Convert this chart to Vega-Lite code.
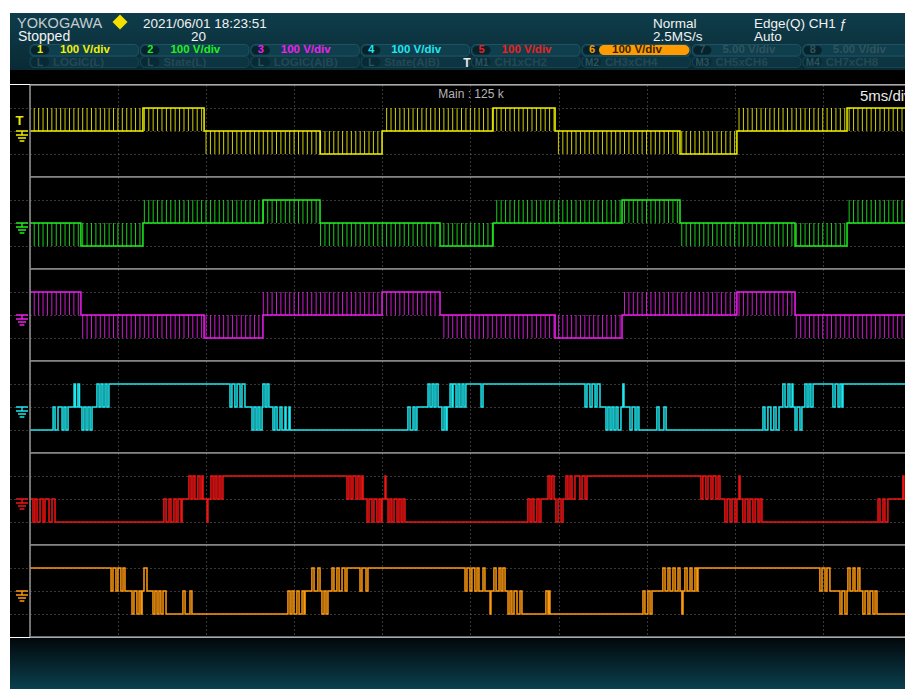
{
"$schema": "https://vega.github.io/schema/vega-lite/v6.json",
"background": "#ffffff",
"padding": {"left": 10, "top": 13, "right": 0, "bottom": 0},
"config": {
  "view": {"stroke": null, "fill": "#000000"},
  "axis": {"minExtent": 0, "maxExtent": 0, "labels": false, "ticks": false, "domain": false, "title": null},
  "concat": {"spacing": 0},
  "text": {"font": "Liberation Sans"}
},
"datasets": {
  "status": [{"brand": "YOKOGAWA", "date": "2021/06/01  18:23:51", "state": "Stopped", "count": "20", "mode": "Normal", "rate": "2.5MS/s", "trig": "Edge(Q) CH1 ƒ", "tmode": "Auto"}],
  "badges": [
    {"i": 0, "ch": 1, "sc": "100 V/div", "pre": "L", "sub": "LOGIC(L)"},
    {"i": 1, "ch": 2, "sc": "100 V/div", "pre": "L", "sub": "State(L)"},
    {"i": 2, "ch": 3, "sc": "100 V/div", "pre": "L", "sub": "LOGIC(A|B)"},
    {"i": 3, "ch": 4, "sc": "100 V/div", "pre": "L", "sub": "State(A|B)"},
    {"i": 4, "ch": 5, "sc": "100 V/div", "pre": "M1", "sub": "CH1xCH2"},
    {"i": 5, "ch": 6, "sc": "100 V/div", "pre": "M2", "sub": "CH3xCH4"},
    {"i": 6, "ch": 7, "sc": "5.00 V/div", "pre": "M3", "sub": "CH5xCH6"},
    {"i": 7, "ch": 8, "sc": "5.00 V/div", "pre": "M4", "sub": "CH7xCH8"}
  ],
  "scope": [
    {"c": 1, "g": 1, "info": "Main : 125 k", "tdiv": "5ms/div"},
    {"c": 2, "g": 1}, {"c": 3, "g": 1}, {"c": 4, "g": 1}, {"c": 5, "g": 1}, {"c": 6, "g": 1},
    {"c":1,"t":0,"v":0},{"c":1,"t":6.41,"v":100},{"c":1,"t":9.88,"v":0},{"c":1,"t":16.46,"v":-100},{"c":1,"t":19.98,"v":0},{"c":1,"t":26.28,"v":100},{"c":1,"t":29.8,"v":0},{"c":1,"t":36.89,"v":-100},{"c":1,"t":40.12,"v":0},{"c":1,"t":46.37,"v":100},{"c":1,"t":49.7,"v":100},
    {"c":2,"t":0,"v":0},{"c":2,"t":2.89,"v":-100},{"c":2,"t":6.41,"v":0},{"c":2,"t":13.22,"v":100},{"c":2,"t":16.46,"v":0},{"c":2,"t":23.27,"v":-100},{"c":2,"t":26.28,"v":0},{"c":2,"t":33.6,"v":100},{"c":2,"t":36.89,"v":0},{"c":2,"t":43.42,"v":-100},{"c":2,"t":46.37,"v":0},{"c":2,"t":49.7,"v":0},
    {"c":3,"t":0,"v":100},{"c":3,"t":2.89,"v":0},{"c":3,"t":9.88,"v":-100},{"c":3,"t":13.22,"v":0},{"c":3,"t":19.98,"v":100},{"c":3,"t":23.27,"v":0},{"c":3,"t":29.8,"v":-100},{"c":3,"t":33.6,"v":0},{"c":3,"t":40.12,"v":100},{"c":3,"t":43.42,"v":0},{"c":3,"t":49.7,"v":0},
    {"c":1,"b":0,"p":100,"ts":[0.24,0.49,0.74,0.99,1.24,1.49,1.74,1.99,2.24,2.49,2.74,2.99,3.24,3.49,3.74,3.99,4.24,4.49,4.74,4.99,5.24,5.49,5.74,5.99,6.24]},
    {"c":1,"b":100,"p":0,"ts":[6.49,6.74,6.99,7.24,7.49,7.74,7.99,8.24,8.49,8.74,8.99,9.24,9.49,9.74]},
    {"c":1,"b":0,"p":-100,"ts":[9.99,10.24,10.49,10.74,10.99,11.24,11.49,11.74,11.99,12.24,12.49,12.74,12.99,13.24,13.49,13.74,13.99,14.24,14.49,14.74,14.99,15.24,15.49,15.74,15.99,16.24]},
    {"c":1,"b":-100,"p":0,"ts":[16.49,16.74,16.99,17.24,17.49,17.74,17.99,18.24,18.49,18.74,18.99,19.24,19.49,19.74]},
    {"c":1,"b":0,"p":100,"ts":[20.24,20.49,20.74,20.99,21.24,21.49,21.74,21.99,22.24,22.49,22.74,22.99,23.24,23.49,23.74,23.99,24.24,24.49,24.74,24.99,25.24,25.49,25.74,25.99,26.24]},
    {"c":1,"b":100,"p":0,"ts":[26.49,26.74,26.99,27.24,27.49,27.74,27.99,28.24,28.49,28.74,28.99,29.24,29.49,29.74]},
    {"c":1,"b":0,"p":-100,"ts":[29.99,30.24,30.49,30.74,30.99,31.24,31.49,31.74,31.99,32.24,32.49,32.74,32.99,33.24,33.49,33.74,33.99,34.24,34.49,34.74,34.99,35.24,35.49,35.74,35.99,36.24,36.49,36.74]},
    {"c":1,"b":-100,"p":0,"ts":[36.99,37.24,37.49,37.74,37.99,38.24,38.49,38.74,38.99,39.24,39.49,39.74,39.99]},
    {"c":1,"b":0,"p":100,"ts":[40.24,40.49,40.74,40.99,41.24,41.49,41.74,41.99,42.24,42.49,42.74,42.99,43.24,43.49,43.74,43.99,44.24,44.49,44.74,44.99,45.24,45.49,45.74,45.99,46.24]},
    {"c":1,"b":100,"p":0,"ts":[46.49,46.74,46.99,47.24,47.49,47.74,47.99,48.24,48.49,48.74,48.99,49.24,49.49]},
    {"c":2,"b":0,"p":-100,"ts":[0.24,0.49,0.74,0.99,1.24,1.49,1.74,1.99,2.24,2.49,2.74]},
    {"c":2,"b":-100,"p":0,"ts":[2.99,3.24,3.49,3.74,3.99,4.24,4.49,4.74,4.99,5.24,5.49,5.74,5.99,6.24]},
    {"c":2,"b":0,"p":100,"ts":[6.49,6.74,6.99,7.24,7.49,7.74,7.99,8.24,8.49,8.74,8.99,9.24,9.49,9.74,9.99,10.24,10.49,10.74,10.99,11.24,11.49,11.74,11.99,12.24,12.49,12.74,12.99]},
    {"c":2,"b":100,"p":0,"ts":[13.24,13.49,13.74,13.99,14.24,14.49,14.74,14.99,15.24,15.49,15.74,15.99,16.24]},
    {"c":2,"b":0,"p":-100,"ts":[16.49,16.74,16.99,17.24,17.49,17.74,17.99,18.24,18.49,18.74,18.99,19.24,19.49,19.74,19.99,20.24,20.49,20.74,20.99,21.24,21.49,21.74,21.99,22.24,22.49,22.74,22.99]},
    {"c":2,"b":-100,"p":0,"ts":[23.49,23.74,23.99,24.24,24.49,24.74,24.99,25.24,25.49,25.74,25.99,26.24]},
    {"c":2,"b":0,"p":100,"ts":[26.49,26.74,26.99,27.24,27.49,27.74,27.99,28.24,28.49,28.74,28.99,29.24,29.49,29.74,29.99,30.24,30.49,30.74,30.99,31.24,31.49,31.74,31.99,32.24,32.49,32.74,32.99,33.24,33.49]},
    {"c":2,"b":100,"p":0,"ts":[33.74,33.99,34.24,34.49,34.74,34.99,35.24,35.49,35.74,35.99,36.24,36.49,36.74]},
    {"c":2,"b":0,"p":-100,"ts":[36.99,37.24,37.49,37.74,37.99,38.24,38.49,38.74,38.99,39.24,39.49,39.74,39.99,40.24,40.49,40.74,40.99,41.24,41.49,41.74,41.99,42.24,42.49,42.74,42.99,43.24]},
    {"c":2,"b":-100,"p":0,"ts":[43.49,43.74,43.99,44.24,44.49,44.74,44.99,45.24,45.49,45.74,45.99,46.24]},
    {"c":2,"b":0,"p":100,"ts":[46.49,46.74,46.99,47.24,47.49,47.74,47.99,48.24,48.49,48.74,48.99,49.24,49.49]},
    {"c":3,"b":100,"p":0,"ts":[0.24,0.49,0.74,0.99,1.24,1.49,1.74,1.99,2.24,2.49,2.74]},
    {"c":3,"b":0,"p":-100,"ts":[2.99,3.24,3.49,3.74,3.99,4.24,4.49,4.74,4.99,5.24,5.49,5.74,5.99,6.24,6.49,6.74,6.99,7.24,7.49,7.74,7.99,8.24,8.49,8.74,8.99,9.24,9.49,9.74]},
    {"c":3,"b":-100,"p":0,"ts":[9.99,10.24,10.49,10.74,10.99,11.24,11.49,11.74,11.99,12.24,12.49,12.74,12.99]},
    {"c":3,"b":0,"p":100,"ts":[13.24,13.49,13.74,13.99,14.24,14.49,14.74,14.99,15.24,15.49,15.74,15.99,16.24,16.49,16.74,16.99,17.24,17.49,17.74,17.99,18.24,18.49,18.74,18.99,19.24,19.49,19.74]},
    {"c":3,"b":100,"p":0,"ts":[20.24,20.49,20.74,20.99,21.24,21.49,21.74,21.99,22.24,22.49,22.74,22.99]},
    {"c":3,"b":0,"p":-100,"ts":[23.49,23.74,23.99,24.24,24.49,24.74,24.99,25.24,25.49,25.74,25.99,26.24,26.49,26.74,26.99,27.24,27.49,27.74,27.99,28.24,28.49,28.74,28.99,29.24,29.49,29.74]},
    {"c":3,"b":-100,"p":0,"ts":[29.99,30.24,30.49,30.74,30.99,31.24,31.49,31.74,31.99,32.24,32.49,32.74,32.99,33.24,33.49]},
    {"c":3,"b":0,"p":100,"ts":[33.74,33.99,34.24,34.49,34.74,34.99,35.24,35.49,35.74,35.99,36.24,36.49,36.74,36.99,37.24,37.49,37.74,37.99,38.24,38.49,38.74,38.99,39.24,39.49,39.74,39.99]},
    {"c":3,"b":100,"p":0,"ts":[40.24,40.49,40.74,40.99,41.24,41.49,41.74,41.99,42.24,42.49,42.74,42.99,43.24]},
    {"c":3,"b":0,"p":-100,"ts":[43.49,43.74,43.99,44.24,44.49,44.74,44.99,45.24,45.49,45.74,45.99,46.24,46.49,46.74,46.99,47.24,47.49,47.74,47.99,48.24,48.49,48.74,48.99,49.24,49.49]},
    {"c":4,"t":0,"v":-100},{"c":4,"t":1.31,"v":0},{"c":4,"t":1.42,"v":-100},{"c":4,"t":1.59,"v":0},{"c":4,"t":1.82,"v":-100},{"c":4,"t":1.93,"v":0},{"c":4,"t":2.04,"v":-100},{"c":4,"t":2.16,"v":0},{"c":4,"t":2.5,"v":100},{"c":4,"t":2.58,"v":0},{"c":4,"t":2.72,"v":100},{"c":4,"t":2.81,"v":0},{"c":4,"t":2.95,"v":-100},{"c":4,"t":3.06,"v":0},{"c":4,"t":3.18,"v":-100},{"c":4,"t":3.29,"v":0},{"c":4,"t":3.41,"v":-100},{"c":4,"t":3.52,"v":0},{"c":4,"t":3.8,"v":100},{"c":4,"t":3.92,"v":0},{"c":4,"t":4.03,"v":100},{"c":4,"t":4.14,"v":0},{"c":4,"t":4.26,"v":100},{"c":4,"t":4.37,"v":0},{"c":4,"t":4.48,"v":100},
    {"c":4,"t":11.35,"v":0},{"c":4,"t":11.46,"v":100},{"c":4,"t":11.63,"v":0},{"c":4,"t":11.75,"v":100},{"c":4,"t":11.92,"v":0},{"c":4,"t":12.03,"v":100},{"c":4,"t":12.2,"v":0},{"c":4,"t":12.6,"v":-100},{"c":4,"t":12.71,"v":0},{"c":4,"t":12.83,"v":-100},{"c":4,"t":12.94,"v":0},{"c":4,"t":13.05,"v":-100},{"c":4,"t":13.17,"v":0},{"c":4,"t":13.22,"v":100},{"c":4,"t":13.34,"v":0},{"c":4,"t":13.45,"v":100},{"c":4,"t":13.56,"v":0},{"c":4,"t":13.79,"v":-100},{"c":4,"t":13.9,"v":0},{"c":4,"t":14.02,"v":-100},{"c":4,"t":14.19,"v":0},{"c":4,"t":14.3,"v":-100},{"c":4,"t":14.47,"v":0},{"c":4,"t":14.53,"v":-100},{"c":4,"t":14.7,"v":0},{"c":4,"t":14.76,"v":-100},
    {"c":4,"t":21.45,"v":0},{"c":4,"t":21.57,"v":-100},{"c":4,"t":21.74,"v":0},{"c":4,"t":21.85,"v":-100},{"c":4,"t":21.96,"v":0},{"c":4,"t":22.59,"v":100},{"c":4,"t":22.7,"v":0},{"c":4,"t":22.82,"v":100},{"c":4,"t":22.93,"v":0},{"c":4,"t":23.04,"v":100},{"c":4,"t":23.16,"v":0},{"c":4,"t":23.38,"v":-100},{"c":4,"t":23.5,"v":0},{"c":4,"t":23.61,"v":-100},{"c":4,"t":23.67,"v":0},{"c":4,"t":23.84,"v":100},{"c":4,"t":23.95,"v":0},{"c":4,"t":24.01,"v":100},{"c":4,"t":24.18,"v":0},{"c":4,"t":24.29,"v":100},{"c":4,"t":24.4,"v":0},{"c":4,"t":24.52,"v":100},{"c":4,"t":24.63,"v":0},{"c":4,"t":24.74,"v":100},{"c":4,"t":25.6,"v":0},{"c":4,"t":25.71,"v":100},
    {"c":4,"t":31.5,"v":0},{"c":4,"t":31.61,"v":100},{"c":4,"t":31.78,"v":0},{"c":4,"t":31.9,"v":100},{"c":4,"t":32.07,"v":0},{"c":4,"t":32.18,"v":100},{"c":4,"t":32.35,"v":0},{"c":4,"t":32.69,"v":-100},{"c":4,"t":32.8,"v":0},{"c":4,"t":32.92,"v":-100},{"c":4,"t":33.03,"v":0},{"c":4,"t":33.14,"v":-100},{"c":4,"t":33.26,"v":0},{"c":4,"t":33.37,"v":-100},{"c":4,"t":33.54,"v":0},{"c":4,"t":33.65,"v":100},{"c":4,"t":33.71,"v":0},{"c":4,"t":34.05,"v":-100},{"c":4,"t":34.17,"v":0},{"c":4,"t":34.34,"v":-100},{"c":4,"t":34.45,"v":0},{"c":4,"t":34.56,"v":-100},{"c":4,"t":35.58,"v":0},{"c":4,"t":35.7,"v":-100},{"c":4,"t":35.98,"v":0},{"c":4,"t":36.1,"v":-100},
    {"c":4,"t":41.6,"v":0},{"c":4,"t":41.71,"v":-100},{"c":4,"t":41.88,"v":0},{"c":4,"t":42.05,"v":-100},{"c":4,"t":42.22,"v":0},{"c":4,"t":42.34,"v":-100},{"c":4,"t":42.51,"v":0},{"c":4,"t":42.73,"v":100},{"c":4,"t":42.85,"v":0},{"c":4,"t":43.02,"v":100},{"c":4,"t":43.13,"v":0},{"c":4,"t":43.25,"v":100},{"c":4,"t":43.3,"v":0},{"c":4,"t":43.42,"v":-100},{"c":4,"t":43.53,"v":0},{"c":4,"t":43.7,"v":-100},{"c":4,"t":43.81,"v":0},{"c":4,"t":43.98,"v":100},{"c":4,"t":44.1,"v":0},{"c":4,"t":44.21,"v":100},{"c":4,"t":44.32,"v":0},{"c":4,"t":44.44,"v":100},{"c":4,"t":45.57,"v":0},{"c":4,"t":45.69,"v":100},{"c":4,"t":45.86,"v":0},{"c":4,"t":45.97,"v":100},{"c":4,"t":46.08,"v":0},{"c":4,"t":46.14,"v":100},{"c":4,"t":49.7,"v":100},
    {"c":5,"t":0,"v":0},{"c":5,"t":0.17,"v":-100},{"c":5,"t":0.28,"v":0},{"c":5,"t":0.4,"v":-100},{"c":5,"t":0.57,"v":0},{"c":5,"t":0.74,"v":-100},{"c":5,"t":0.85,"v":0},{"c":5,"t":1.08,"v":-100},{"c":5,"t":1.25,"v":0},{"c":5,"t":1.42,"v":-100},
    {"c":5,"t":7.6,"v":0},{"c":5,"t":7.72,"v":-100},{"c":5,"t":7.89,"v":0},{"c":5,"t":8.0,"v":-100},{"c":5,"t":8.17,"v":0},{"c":5,"t":8.29,"v":-100},{"c":5,"t":8.4,"v":0},{"c":5,"t":8.57,"v":-100},{"c":5,"t":8.63,"v":0},{"c":5,"t":9.02,"v":100},{"c":5,"t":9.14,"v":0},{"c":5,"t":9.25,"v":100},{"c":5,"t":9.36,"v":0},{"c":5,"t":9.53,"v":100},{"c":5,"t":9.65,"v":0},{"c":5,"t":9.76,"v":100},{"c":5,"t":9.82,"v":0},{"c":5,"t":10.05,"v":-100},{"c":5,"t":10.1,"v":0},{"c":5,"t":10.27,"v":100},{"c":5,"t":10.39,"v":0},{"c":5,"t":10.5,"v":100},{"c":5,"t":10.61,"v":0},{"c":5,"t":10.73,"v":100},{"c":5,"t":10.84,"v":0},{"c":5,"t":10.95,"v":100},
    {"c":5,"t":17.99,"v":0},{"c":5,"t":18.1,"v":100},{"c":5,"t":18.22,"v":0},{"c":5,"t":18.33,"v":100},{"c":5,"t":18.5,"v":0},{"c":5,"t":18.61,"v":100},{"c":5,"t":18.73,"v":0},{"c":5,"t":18.84,"v":100},{"c":5,"t":18.9,"v":0},{"c":5,"t":19.13,"v":-100},{"c":5,"t":19.24,"v":0},{"c":5,"t":19.41,"v":-100},{"c":5,"t":19.52,"v":0},{"c":5,"t":19.69,"v":-100},{"c":5,"t":19.81,"v":0},{"c":5,"t":19.92,"v":-100},{"c":5,"t":19.98,"v":0},{"c":5,"t":20.15,"v":100},{"c":5,"t":20.2,"v":0},{"c":5,"t":20.32,"v":-100},{"c":5,"t":20.43,"v":0},{"c":5,"t":20.54,"v":-100},{"c":5,"t":20.66,"v":0},{"c":5,"t":20.83,"v":-100},{"c":5,"t":20.94,"v":0},{"c":5,"t":21.06,"v":-100},{"c":5,"t":21.17,"v":0},{"c":5,"t":21.28,"v":-100},
    {"c":5,"t":28.26,"v":0},{"c":5,"t":28.38,"v":-100},{"c":5,"t":28.49,"v":0},{"c":5,"t":28.6,"v":-100},{"c":5,"t":28.77,"v":0},{"c":5,"t":28.89,"v":-100},{"c":5,"t":29.0,"v":0},{"c":5,"t":29.4,"v":100},{"c":5,"t":29.51,"v":0},{"c":5,"t":29.62,"v":100},{"c":5,"t":29.74,"v":0},{"c":5,"t":29.85,"v":-100},{"c":5,"t":29.97,"v":0},{"c":5,"t":30.14,"v":-100},{"c":5,"t":30.25,"v":0},{"c":5,"t":30.42,"v":100},{"c":5,"t":30.53,"v":0},{"c":5,"t":30.65,"v":100},{"c":5,"t":30.76,"v":0},{"c":5,"t":30.93,"v":100},{"c":5,"t":31.21,"v":0},{"c":5,"t":31.33,"v":100},{"c":5,"t":31.5,"v":0},{"c":5,"t":31.61,"v":100},
    {"c":5,"t":38.08,"v":0},{"c":5,"t":38.19,"v":100},{"c":5,"t":38.36,"v":0},{"c":5,"t":38.48,"v":100},{"c":5,"t":38.65,"v":0},{"c":5,"t":38.76,"v":100},{"c":5,"t":38.93,"v":0},{"c":5,"t":39.05,"v":100},{"c":5,"t":39.16,"v":0},{"c":5,"t":39.44,"v":-100},{"c":5,"t":39.56,"v":0},{"c":5,"t":39.73,"v":-100},{"c":5,"t":39.84,"v":0},{"c":5,"t":40.01,"v":-100},{"c":5,"t":40.12,"v":0},{"c":5,"t":40.24,"v":100},{"c":5,"t":40.3,"v":0},{"c":5,"t":40.46,"v":-100},{"c":5,"t":40.58,"v":0},{"c":5,"t":40.75,"v":-100},{"c":5,"t":40.86,"v":0},{"c":5,"t":41.03,"v":-100},{"c":5,"t":41.15,"v":0},{"c":5,"t":41.32,"v":-100},{"c":5,"t":41.43,"v":0},{"c":5,"t":41.54,"v":-100},
    {"c":5,"t":48.13,"v":0},{"c":5,"t":48.24,"v":-100},{"c":5,"t":48.41,"v":0},{"c":5,"t":48.52,"v":-100},{"c":5,"t":48.69,"v":0},{"c":5,"t":49.54,"v":100},{"c":5,"t":49.6,"v":0},{"c":5,"t":49.7,"v":0},
    {"c":6,"t":0,"v":100},{"c":6,"t":4.6,"v":0},{"c":6,"t":4.71,"v":100},{"c":6,"t":4.88,"v":0},{"c":6,"t":4.99,"v":100},{"c":6,"t":5.16,"v":0},{"c":6,"t":5.28,"v":100},{"c":6,"t":5.39,"v":0},{"c":6,"t":5.79,"v":-100},{"c":6,"t":5.9,"v":0},{"c":6,"t":6.07,"v":-100},{"c":6,"t":6.19,"v":0},{"c":6,"t":6.3,"v":-100},{"c":6,"t":6.36,"v":0},{"c":6,"t":6.47,"v":100},{"c":6,"t":6.64,"v":0},{"c":6,"t":6.98,"v":-100},{"c":6,"t":7.09,"v":0},{"c":6,"t":7.21,"v":-100},{"c":6,"t":7.32,"v":0},{"c":6,"t":7.43,"v":-100},{"c":6,"t":7.55,"v":0},{"c":6,"t":7.72,"v":-100},{"c":6,"t":8.68,"v":0},{"c":6,"t":8.8,"v":-100},{"c":6,"t":9.08,"v":0},{"c":6,"t":9.19,"v":-100},
    {"c":6,"t":14.64,"v":0},{"c":6,"t":14.76,"v":-100},{"c":6,"t":14.87,"v":0},{"c":6,"t":14.98,"v":-100},{"c":6,"t":15.15,"v":0},{"c":6,"t":15.27,"v":-100},{"c":6,"t":15.44,"v":0},{"c":6,"t":15.55,"v":-100},{"c":6,"t":15.61,"v":0},{"c":6,"t":16.0,"v":100},{"c":6,"t":16.12,"v":0},{"c":6,"t":16.34,"v":100},{"c":6,"t":16.46,"v":0},{"c":6,"t":16.57,"v":-100},{"c":6,"t":16.69,"v":0},{"c":6,"t":16.8,"v":-100},{"c":6,"t":16.91,"v":0},{"c":6,"t":17.14,"v":100},{"c":6,"t":17.25,"v":0},{"c":6,"t":17.42,"v":100},{"c":6,"t":17.54,"v":0},{"c":6,"t":17.71,"v":100},{"c":6,"t":17.88,"v":0},{"c":6,"t":17.99,"v":100},{"c":6,"t":18.73,"v":0},{"c":6,"t":18.84,"v":100},{"c":6,"t":19.07,"v":0},{"c":6,"t":19.18,"v":100},
    {"c":6,"t":24.69,"v":0},{"c":6,"t":24.8,"v":100},{"c":6,"t":24.97,"v":0},{"c":6,"t":25.08,"v":100},{"c":6,"t":25.25,"v":0},{"c":6,"t":25.37,"v":100},{"c":6,"t":25.48,"v":0},{"c":6,"t":25.71,"v":100},{"c":6,"t":25.82,"v":0},{"c":6,"t":26.11,"v":-100},{"c":6,"t":26.16,"v":0},{"c":6,"t":26.33,"v":100},{"c":6,"t":26.45,"v":0},{"c":6,"t":26.62,"v":100},{"c":6,"t":26.73,"v":0},{"c":6,"t":26.84,"v":100},{"c":6,"t":26.96,"v":0},{"c":6,"t":27.13,"v":-100},{"c":6,"t":27.24,"v":0},{"c":6,"t":27.35,"v":-100},{"c":6,"t":27.47,"v":0},{"c":6,"t":27.64,"v":-100},{"c":6,"t":27.81,"v":0},{"c":6,"t":27.92,"v":-100},{"c":6,"t":29.28,"v":0},{"c":6,"t":29.4,"v":-100},{"c":6,"t":29.45,"v":0},{"c":6,"t":29.51,"v":-100},
    {"c":6,"t":34.79,"v":0},{"c":6,"t":34.9,"v":-100},{"c":6,"t":35.07,"v":0},{"c":6,"t":35.19,"v":-100},{"c":6,"t":35.3,"v":0},{"c":6,"t":35.92,"v":100},{"c":6,"t":36.04,"v":0},{"c":6,"t":36.21,"v":100},{"c":6,"t":36.32,"v":0},{"c":6,"t":36.49,"v":100},{"c":6,"t":36.61,"v":0},{"c":6,"t":36.78,"v":100},{"c":6,"t":36.89,"v":0},{"c":6,"t":37.0,"v":-100},{"c":6,"t":37.06,"v":0},{"c":6,"t":37.17,"v":100},{"c":6,"t":37.29,"v":0},{"c":6,"t":37.46,"v":100},{"c":6,"t":37.57,"v":0},{"c":6,"t":37.74,"v":100},{"c":6,"t":37.85,"v":0},{"c":6,"t":37.91,"v":100},
    {"c":6,"t":44.83,"v":0},{"c":6,"t":44.95,"v":100},{"c":6,"t":45.12,"v":0},{"c":6,"t":45.23,"v":100},{"c":6,"t":45.4,"v":0},{"c":6,"t":45.97,"v":-100},{"c":6,"t":46.08,"v":0},{"c":6,"t":46.25,"v":-100},{"c":6,"t":46.37,"v":0},{"c":6,"t":46.42,"v":100},{"c":6,"t":46.54,"v":0},{"c":6,"t":46.71,"v":100},{"c":6,"t":46.82,"v":0},{"c":6,"t":46.99,"v":100},{"c":6,"t":47.1,"v":0},{"c":6,"t":47.27,"v":-100},{"c":6,"t":47.39,"v":0},{"c":6,"t":47.56,"v":-100},{"c":6,"t":47.67,"v":0},{"c":6,"t":47.84,"v":-100},{"c":6,"t":47.96,"v":0},{"c":6,"t":48.07,"v":-100},{"c":6,"t":49.7,"v":-100}
  ]
},
"spacing": 0,
"resolve": {"scale": {"x": "independent", "y": "independent", "color": "independent"}},
"vconcat": [
  {
    "width": 895, "height": 71,
    "layer": [
      {"data": {"name": "status"},
       "mark": {"type": "rect", "clip": true, "fill": {"gradient": "linear", "x1": 0, "y1": 0, "x2": 0, "y2": 1, "stops": [{"offset": 0, "color": "#0f3d4b"}, {"offset": 1, "color": "#092a35"}]}},
       "encoding": {
         "x": {"datum": -0.1812, "type": "quantitative", "scale": {"domain": [-0.1812, 7.9257], "nice": false, "zero": false}, "axis": null},
         "x2": {"datum": 7.9257},
         "y": {"datum": 14, "type": "quantitative", "scale": {"domain": [0, 71], "nice": false, "zero": false}, "axis": null},
         "y2": {"datum": 71}}},
      {"data": {"name": "badges"},
       "mark": {"type": "rect", "clip": true, "fill": "#0f3e4c", "stroke": "#24596a", "strokeWidth": 0.8, "cornerRadius": 4, "x2Offset": -2},
       "encoding": {"x": {"field": "i", "type": "quantitative"}, "x2": {"field": "ch"}, "y": {"datum": 28}, "y2": {"datum": 39.5}}},
      {"data": {"name": "badges"},
       "mark": {"type": "rect", "clip": true, "fill": "#0c3541", "stroke": "#1c4a58", "strokeWidth": 0.8, "cornerRadius": 4, "x2Offset": -2},
       "encoding": {"x": {"field": "i", "type": "quantitative"}, "x2": {"field": "ch"}, "y": {"datum": 16.5}, "y2": {"datum": 27.5}}},
      {"data": {"name": "badges"},
       "mark": {"type": "rect", "clip": true, "fill": "#06232c", "cornerRadius": 5, "xOffset": 1, "x2Offset": 19},
       "encoding": {"x": {"field": "i", "type": "quantitative"}, "x2": {"field": "i"}, "y": {"datum": 29.5}, "y2": {"datum": 38}}},
      {"data": {"name": "badges"},
       "mark": {"type": "rect", "clip": true, "fill": "#082a34", "cornerRadius": 5, "xOffset": 1, "x2Offset": 19},
       "encoding": {"x": {"field": "i", "type": "quantitative"}, "x2": {"field": "i"}, "y": {"datum": 17.5}, "y2": {"datum": 26.5}}},
      {"data": {"name": "badges"},
       "transform": [{"filter": "datum.ch === 6"}],
       "mark": {"type": "rect", "fill": "#ff9a00", "cornerRadius": 5, "xOffset": 17, "x2Offset": -3},
       "encoding": {"x": {"field": "i", "type": "quantitative"}, "x2": {"field": "ch"}, "y": {"datum": 29}, "y2": {"datum": 39}}},
      {"data": {"name": "badges"},
       "mark": {"type": "text", "align": "center", "baseline": "middle", "fontSize": 11, "fontWeight": "bold", "xOffset": 10, "clip": true},
       "encoding": {"x": {"field": "i", "type": "quantitative"}, "y": {"datum": 34}, "text": {"field": "ch"},
         "color": {"field": "ch", "type": "nominal", "scale": {"domain": [1, 2, 3, 4, 5, 6, 7, 8], "range": ["#f2f200", "#20f020", "#f020f0", "#20e8f0", "#f02020", "#ff9a00", "#2f545e", "#2f545e"]}, "legend": null}}},
      {"data": {"name": "badges"},
       "mark": {"type": "text", "align": "left", "baseline": "middle", "fontSize": 11.5, "fontWeight": "bold", "xOffset": 30, "clip": true},
       "encoding": {"x": {"field": "i", "type": "quantitative"}, "y": {"datum": 34}, "text": {"field": "sc"},
         "color": {"condition": {"test": "datum.ch === 6", "value": "#3a2400"}, "field": "ch", "type": "nominal", "legend": null}}},
      {"data": {"name": "badges"},
       "mark": {"type": "text", "align": "center", "baseline": "middle", "fontSize": 10, "fontWeight": "bold", "xOffset": 10, "color": "#2a525e", "clip": true},
       "encoding": {"x": {"field": "i", "type": "quantitative"}, "y": {"datum": 21.5}, "text": {"field": "pre"}}},
      {"data": {"name": "badges"},
       "mark": {"type": "text", "align": "left", "baseline": "middle", "fontSize": 11.5, "fontWeight": "bold", "xOffset": 23, "color": "#234955", "clip": true},
       "encoding": {"x": {"field": "i", "type": "quantitative"}, "y": {"datum": 21.5}, "text": {"field": "sub"}}},
      {"data": {"name": "status"},
       "mark": {"type": "text", "align": "left", "baseline": "alphabetic", "fontSize": 14.5, "color": "#c5cdd0"},
       "encoding": {"x": {"datum": -0.1178}, "y": {"datum": 56}, "text": {"field": "brand"}}},
      {"data": {"name": "status"},
       "mark": {"type": "point", "shape": "diamond", "filled": true, "size": 225, "color": "#f5e000", "opacity": 1},
       "encoding": {"x": {"datum": 0.8152}, "y": {"datum": 62}}},
      {"data": {"name": "status"},
       "mark": {"type": "text", "align": "left", "baseline": "alphabetic", "fontSize": 13.5, "color": "#f2f2f2"},
       "encoding": {"x": {"datum": 1.0236}, "y": {"datum": 56}, "text": {"field": "date"}}},
      {"data": {"name": "status"},
       "mark": {"type": "text", "align": "left", "baseline": "alphabetic", "fontSize": 14, "color": "#f2f2f2"},
       "encoding": {"x": {"datum": -0.1087}, "y": {"datum": 43}, "text": {"field": "state"}}},
      {"data": {"name": "status"},
       "mark": {"type": "text", "align": "left", "baseline": "alphabetic", "fontSize": 13.5, "color": "#f2f2f2"},
       "encoding": {"x": {"datum": 1.4583}, "y": {"datum": 43}, "text": {"field": "count"}}},
      {"data": {"name": "status"},
       "mark": {"type": "text", "align": "left", "baseline": "alphabetic", "fontSize": 13.5, "color": "#f2f2f2"},
       "encoding": {"x": {"datum": 5.643}, "y": {"datum": 56}, "text": {"field": "mode"}}},
      {"data": {"name": "status"},
       "mark": {"type": "text", "align": "left", "baseline": "alphabetic", "fontSize": 13.5, "color": "#f2f2f2"},
       "encoding": {"x": {"datum": 5.643}, "y": {"datum": 43}, "text": {"field": "rate"}}},
      {"data": {"name": "status"},
       "mark": {"type": "text", "align": "left", "baseline": "alphabetic", "fontSize": 13.5, "color": "#f2f2f2"},
       "encoding": {"x": {"datum": 6.558}, "y": {"datum": 56}, "text": {"field": "trig"}}},
      {"data": {"name": "status"},
       "mark": {"type": "text", "align": "left", "baseline": "alphabetic", "fontSize": 13.5, "color": "#f2f2f2"},
       "encoding": {"x": {"datum": 6.558}, "y": {"datum": 43}, "text": {"field": "tmode"}}},
      {"data": {"name": "status"},
       "mark": {"type": "text", "align": "center", "baseline": "middle", "fontSize": 12, "fontWeight": "bold", "color": "#e8e8e8", "text": "T"},
       "encoding": {"x": {"datum": 3.958}, "y": {"datum": 21.5}}}
    ]
  },
  {
    "data": {"name": "scope"},
    "facet": {"row": {"field": "c", "type": "ordinal", "header": null}},
    "spacing": 0,
    "bounds": "flush",
    "spec": {
      "width": 895, "height": 92,
      "layer": [
        {"transform": [{"filter": "isValid(datum.v)"}],
         "mark": {"type": "line", "interpolate": "step-after", "strokeWidth": 1.5, "clip": true},
         "encoding": {
           "x": {"field": "t", "type": "quantitative", "scale": {"domain": [-1.135, 49.66], "nice": false, "zero": false},
                 "axis": {"values": [0, 5, 10, 15, 20, 25, 30, 35, 40, 45], "grid": true, "gridColor": "#707070", "gridDash": [1, 3], "gridWidth": 1}},
           "y": {"field": "v", "type": "quantitative", "scale": {"domain": [-200, 200], "nice": false, "zero": false},
                 "axis": {"values": [-100, 0, 100], "grid": true, "gridColor": "#707070", "gridDash": [1, 3], "gridWidth": 1}},
           "color": {"field": "c", "type": "nominal", "scale": {"domain": [1, 2, 3, 4, 5, 6], "range": ["#f2f200", "#1ef01e", "#f01ef0", "#1ee8f0", "#f21414", "#ff9a10"]}, "legend": null}}},
        {"transform": [{"filter": "isValid(datum.p)"}, {"flatten": ["ts"]}],
         "mark": {"type": "rule", "strokeWidth": 1, "opacity": 0.85, "clip": true},
         "encoding": {"x": {"field": "ts", "type": "quantitative"}, "y": {"field": "b", "type": "quantitative"}, "y2": {"field": "p"},
           "color": {"field": "c", "type": "nominal", "legend": null}}},
        {"transform": [{"filter": "datum.g === 1"}],
         "mark": {"type": "rule", "color": "#8c8c8c", "strokeWidth": 1.6},
         "encoding": {"x": {"datum": 0}, "x2": {"datum": 49.66}, "y": {"datum": 200}}},
        {"transform": [{"filter": "datum.g === 1"}],
         "mark": {"type": "rule", "color": "#8c8c8c", "strokeWidth": 1.6},
         "encoding": {"x": {"datum": 0}, "x2": {"datum": 49.66}, "y": {"datum": -200}}},
        {"transform": [{"filter": "datum.g === 1"}],
         "mark": {"type": "rule", "color": "#8c8c8c", "strokeWidth": 1.6},
         "encoding": {"x": {"datum": 0}, "y": {"datum": -200}, "y2": {"datum": 200}}},
        {"transform": [{"filter": "datum.g === 1"}],
         "mark": {"type": "point", "shape": "M-1,0H1M0,0V0.67M-1,0.67H1M-0.67,1.17H0.67M-0.4,1.67H0.4", "filled": false, "size": 144, "strokeWidth": 1.4, "opacity": 1},
         "encoding": {"x": {"datum": -0.454}, "y": {"datum": 0}, "color": {"field": "c", "type": "nominal", "legend": null}}},
        {"transform": [{"filter": "isValid(datum.info)"}],
         "mark": {"type": "text", "align": "center", "baseline": "middle", "fontSize": 12, "color": "#b5b5b5"},
         "encoding": {"x": {"datum": 25.03}, "y": {"datum": 161}, "text": {"field": "info"}}},
        {"transform": [{"filter": "isValid(datum.info)"}],
         "mark": {"type": "text", "align": "left", "baseline": "middle", "fontSize": 15, "color": "#ececec", "clip": true},
         "encoding": {"x": {"datum": 47.1}, "y": {"datum": 152}, "text": {"field": "tdiv"}}},
        {"transform": [{"filter": "isValid(datum.info)"}],
         "mark": {"type": "text", "align": "center", "baseline": "middle", "fontSize": 13, "fontWeight": "bold", "color": "#e8e800", "text": "T"},
         "encoding": {"x": {"datum": -0.6}, "y": {"datum": 45}}}
      ]
    }
  },
  {
    "width": 895, "height": 53,
    "data": {"name": "status"},
    "mark": {"type": "rect", "fill": {"gradient": "linear", "x1": 0, "y1": 0, "x2": 0, "y2": 1, "stops": [{"offset": 0, "color": "#02080b"}, {"offset": 1, "color": "#0a4150"}]}},
    "encoding": {
      "x": {"datum": 0, "type": "quantitative", "scale": {"domain": [0, 1], "nice": false, "zero": false}, "axis": null},
      "x2": {"datum": 1},
      "y": {"datum": 0, "type": "quantitative", "scale": {"domain": [0, 1], "nice": false, "zero": false}, "axis": null},
      "y2": {"datum": 1}}
  }
]
}
